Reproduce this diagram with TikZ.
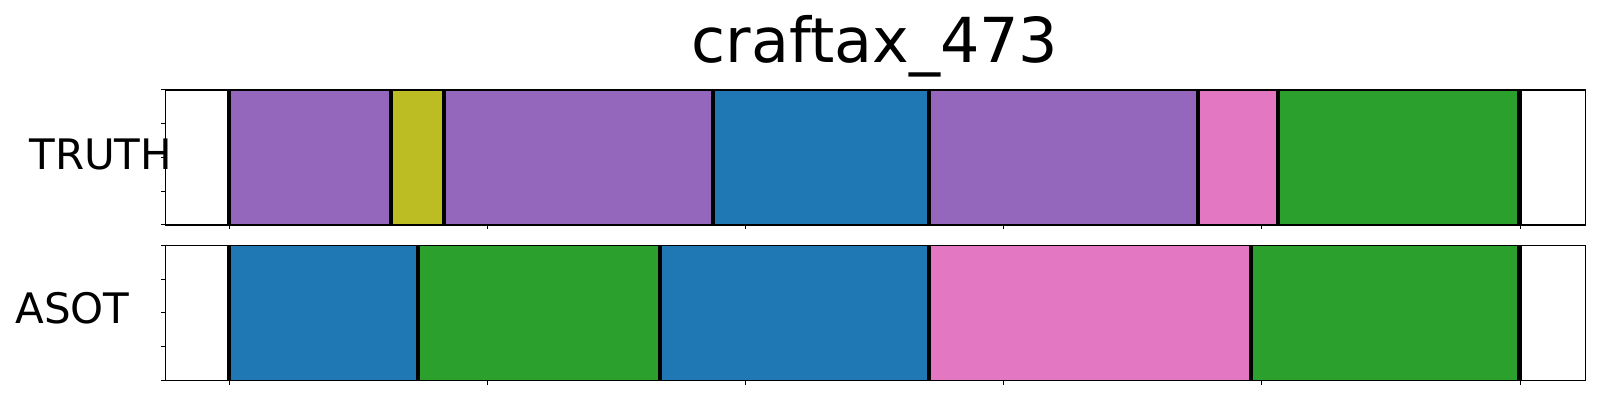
\documentclass[tikz,border=0pt]{standalone}
\usepackage{fontspec}
\setmainfont{DejaVu Sans}
\definecolor{tabblue}{HTML}{1F77B4}
\definecolor{tabgreen}{HTML}{2CA02C}
\definecolor{tabpurple}{HTML}{9467BD}
\definecolor{tabpink}{HTML}{E377C2}
\definecolor{tabolive}{HTML}{BCBD22}

\begin{document}
\begin{tikzpicture}[x=0.5pt,y=-0.5pt,
  bord/.style={line width=2.1pt},
  cadre/.style={line width=0.6pt},
  graduation/.style={line width=0.5pt}]
\useasboundingbox (0,0) rectangle (1600,400);
% segments TRUTH
\fill [color=tabpurple] (229,90) rectangle (390.7,225);
\fill [color=tabolive] (390.7,90) rectangle (444,225);
\fill [color=tabpurple] (444,90) rectangle (713,225);
\fill [color=tabblue] (713,90) rectangle (928.7,225);
\fill [color=tabpurple] (928.7,90) rectangle (1197.7,225);
\fill [color=tabpink] (1197.7,90) rectangle (1277.7,225);
\fill [color=tabgreen] (1277.7,90) rectangle (1519.5,225);
\draw[bord] (229,90) -- (229,225) (391,90) -- (391,225) (443.8,90) -- (443.8,225)
      (713,90) -- (713,225) (928.7,90) -- (928.7,225) (1197.7,90) -- (1197.7,225)
      (1277.7,90) -- (1277.7,225) (1519.5,90) -- (1519.5,225);
% segments ASOT
\fill [color=tabblue] (229,245.5) rectangle (417.7,380.5);
\fill [color=tabgreen] (417.7,245.5) rectangle (659.7,380.5);
\fill [color=tabblue] (659.7,245.5) rectangle (928.7,380.5);
\fill [color=tabpink] (928.7,245.5) rectangle (1250.7,380.5);
\fill [color=tabgreen] (1250.7,245.5) rectangle (1519.5,380.5);
\draw[bord] (229,245.5) -- (229,380.5) (417.7,245.5) -- (417.7,380.5)
      (659.7,245.5) -- (659.7,380.5) (928.7,245.5) -- (928.7,380.5)
      (1250.7,245.5) -- (1250.7,380.5) (1519.5,245.5) -- (1519.5,380.5);

% axes
\draw[cadre] (165.5,90) rectangle (1585.5,225);
\draw[cadre] (165.5,245.5) rectangle (1585.5,380.5);
\draw[graduation] (161,90) -- (165.5,90) (161,123.75) -- (165.5,123.75) (161,157.5) -- (165.5,157.5)
      (161,191.25) -- (165.5,191.25) (161,225) -- (165.5,225);
\draw[graduation] (161,245.5) -- (165.5,245.5) (161,279.25) -- (165.5,279.25) (161,313) -- (165.5,313)
      (161,346.75) -- (165.5,346.75) (161,380.5) -- (165.5,380.5);
\draw[graduation] (229,225) -- (229,229.5) (487.2,225) -- (487.2,229.5) (745.4,225) -- (745.4,229.5)
      (1003.6,225) -- (1003.6,229.5) (1261.8,225) -- (1261.8,229.5) (1520,225) -- (1520,229.5);
\draw[graduation] (229,380.5) -- (229,385) (487.2,380.5) -- (487.2,385) (745.4,380.5) -- (745.4,385)
      (1003.6,380.5) -- (1003.6,385) (1261.8,380.5) -- (1261.8,385) (1520,380.5) -- (1520,385);

\node (titre) [anchor=base,inner sep=0pt,font=\fontsize{31}{37}\selectfont] at (875,62.3) {craftax\_473};
\node (truth) [anchor=base west,inner sep=0pt,font=\fontsize{21}{25}\selectfont] at (29,170) {TRUTH};
\node (asot) [anchor=base west,inner sep=0pt,font=\fontsize{21}{25}\selectfont] at (15,324) {ASOT};
\end{tikzpicture}
\end{document}
